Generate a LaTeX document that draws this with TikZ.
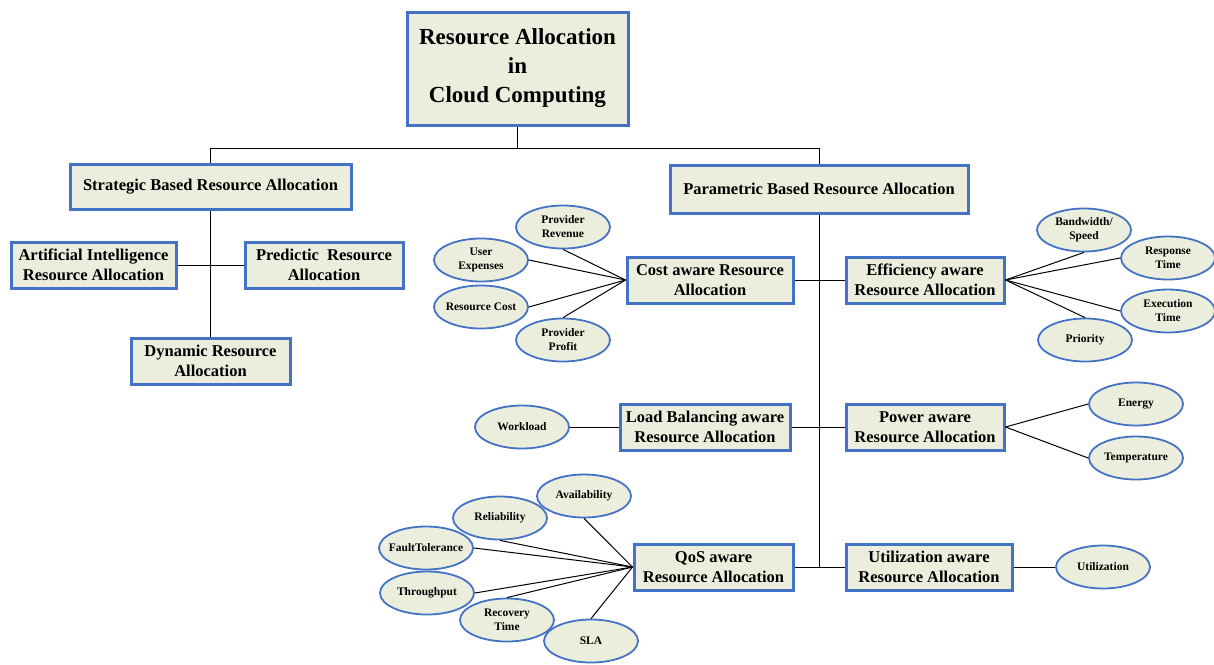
\documentclass[tikz,border=0pt]{standalone}
\usepackage{fontspec}
\setmainfont{Liberation Serif}
\usetikzlibrary{shapes.geometric}
\definecolor{boxfill}{RGB}{236,238,221}
\definecolor{boxline}{RGB}{68,114,196}
\tikzset{
    box/.style={draw=boxline, line width=3pt, fill=boxfill, align=center,
        font=\fontsize{16.5}{20}\selectfont\bfseries, inner sep=0pt},
    leaf/.style={ellipse, draw=boxline, line width=1.8pt, fill=boxfill, align=center,
        font=\fontsize{11.5}{14}\selectfont\bfseries, inner xsep=-6pt, inner ysep=0pt,
        minimum width=94pt, minimum height=43pt},
    link/.style={line width=1pt, black}
}
\begin{document}
\begin{tikzpicture}[x=1pt, y=-1pt]
    \useasboundingbox (0,0) rectangle (1214,664);
    % Racine
    \node[box, minimum width=221pt, minimum height=113pt,
        font=\fontsize{23}{29}\selectfont\bfseries] (root) at (517.5,68.5)
        {Resource Allocation\\in\\Cloud Computing};
    % Deux branches principales
    \node[box, minimum width=281pt, minimum height=45pt] (strat) at (210.5,186.5) {Strategic Based Resource Allocation};
    \node[box, minimum width=298pt, minimum height=48pt] (param) at (819,189) {Parametric Based Resource Allocation};
    % Branche strategique
    \node[box, minimum width=165pt, minimum height=46pt] (ai) at (93.5,265) {Artificial Intelligence\\Resource Allocation};
    \node[box, minimum width=158pt, minimum height=46pt] (pred) at (324,265) {Predictic\ \ Resource\\Allocation};
    \node[box, minimum width=159pt, minimum height=46pt] (dyn) at (210.5,361) {Dynamic Resource\\Allocation};
    % Branche parametrique
    \node[box, minimum width=166pt, minimum height=46pt] (cost) at (710,280) {Cost aware Resource\\Allocation};
    \node[box, minimum width=158pt, minimum height=46pt] (eff) at (925,280) {Efficiency aware\\Resource Allocation};
    \node[box, minimum width=170pt, minimum height=46pt] (load) at (705,427) {Load Balancing aware\\Resource Allocation};
    \node[box, minimum width=158pt, minimum height=46pt] (pow) at (925,427) {Power aware\\Resource Allocation};
    \node[box, minimum width=159pt, minimum height=46pt] (qos) at (713.5,567) {QoS aware\\Resource Allocation};
    \node[box, minimum width=166pt, minimum height=46pt] (util) at (929,567) {Utilization aware\\Resource Allocation};
    % Ellipses (cout)
    \node[leaf] (rev) at (563,227) {Provider\\Revenue};
    \node[leaf] (usr) at (481,260) {User\\Expenses};
    \node[leaf] (rcost) at (481,307) {Resource Cost};
    \node[leaf] (prof) at (563,340) {Provider\\Profit};
    % Ellipses (efficacite)
    \node[leaf] (bw) at (1084,230) {Bandwidth/\\Speed};
    \node[leaf] (resp) at (1168,258) {Response\\Time};
    \node[leaf] (exec) at (1168,311) {Execution\\Time};
    \node[leaf] (prio) at (1085,340) {Priority};
    % Ellipses (charge, puissance, utilisation)
    \node[leaf] (work) at (522,427) {Workload};
    \node[leaf] (energy) at (1136,404) {Energy};
    \node[leaf] (temp) at (1136,458) {Temperature};
    \node[leaf] (used) at (1103,567) {Utilization};
    % Ellipses (QoS)
    \node[leaf] (avail) at (584,496) {Availability};
    \node[leaf] (rel) at (500,518) {Reliability};
    \node[leaf] (fault) at (426,548) {FaultTolerance};
    \node[leaf] (thr) at (427,593) {Throughput};
    \node[leaf] (recov) at (507,620) {Recovery\\Time};
    \node[leaf] (sla) at (591,641) {SLA};
    % Arbre
    \coordinate (split) at (517.5,148);
    \coordinate (pend) at (819,567);
    \draw[link] (root.south) -- (split);
    \draw[link] (split) -| (strat.north);
    \draw[link] (split) -| (param.north);
    \draw[link] (strat.south) -- (dyn.north);
    \draw[link] (ai.east) -- (pred.west);
    \draw[link] (param.south) -- (pend);
    \draw[link] (cost.east) -- (eff.west);
    \draw[link] (load.east) -- (pow.west);
    \draw[link] (qos.east) -- (util.west);
    % Liens vers les ellipses
    \draw[link] (rev.south) -- (cost.west);
    \draw[link] (usr.east) -- (cost.west);
    \draw[link] (rcost.east) -- (cost.west);
    \draw[link] (prof.north) -- (cost.west);
    \draw[link] (eff.east) -- (bw.south);
    \draw[link] (eff.east) -- (resp.west);
    \draw[link] (eff.east) -- (exec.west);
    \draw[link] (eff.east) -- (prio.north);
    \draw[link] (work.east) -- (load.west);
    \draw[link] (pow.east) -- (energy.west);
    \draw[link] (pow.east) -- (temp.west);
    \draw[link] (util.east) -- (used.west);
    \foreach \leafname/\spot in {avail/south, rel/south, fault/east, thr/east, recov/north, sla/north}
        \draw[link] (\leafname.\spot) -- (qos.west);
\end{tikzpicture}
\end{document}
